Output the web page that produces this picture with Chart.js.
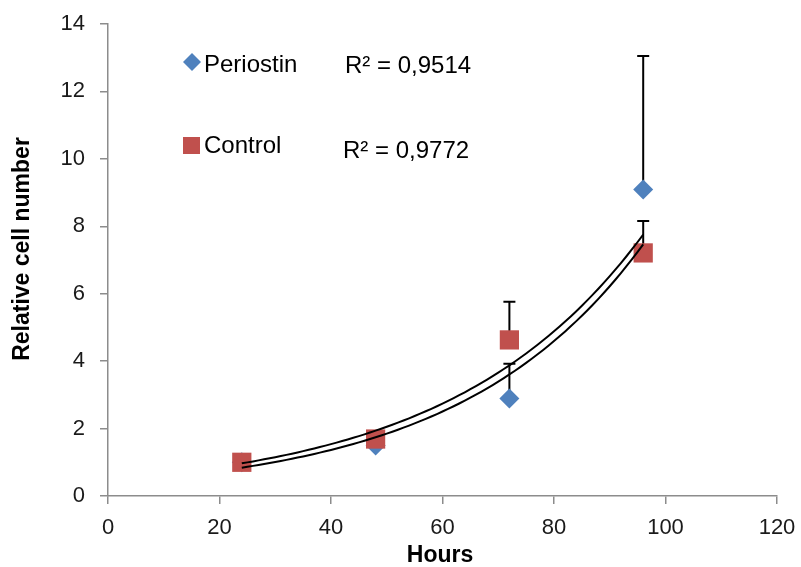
<!DOCTYPE html>
<html lang="en">
<head>
  <meta charset="UTF-8">
  <title>Relative cell number vs hours</title>
  <script src="https://cdn.jsdelivr.net/npm/chart.js@4.4.1/dist/chart.umd.min.js"></script>
  <style>
    body { margin: 0; background: #fff; }
    #wrap { width: 801px; height: 567px; }
  </style>
</head>
<body>
  <div id="wrap"><canvas id="cells" width="801" height="567"></canvas></div>
  <script>
    // values
    var hours = [24, 48, 72, 96];
    var periostin = [1.0, 1.5, 2.89, 9.09];
    var periostinErr = [0.05, 0.1, 1.03, 3.96];
    var control = [1.0, 1.69, 4.63, 7.21];
    var controlErr = [0.05, 0.08, 1.13, 0.95];
    var xTicks = [0, 20, 40, 60, 80, 100, 120];
    var yTicks = [0, 2, 4, 6, 8, 10, 12, 14];
    var seriesNames = ['Periostin', 'Control'];
    var r2Labels = ['R\u00b2 = 0,9514', 'R\u00b2 = 0,9772'];

    var BLUE = '#4f81bd';
    var RED = '#c0504d';
    var AXIS = '#8c8c8c';
    var FONT = "'Liberation Sans', Arial, sans-serif";

    // exponential trendline y = a*e^(bx), least squares on ln(y)
    function fitExp(xs, ys) {
      var n = xs.length, sx = 0, sy = 0, sxx = 0, sxy = 0;
      for (var i = 0; i < n; i++) {
        var ly = Math.log(ys[i]);
        sx += xs[i]; sy += ly; sxx += xs[i] * xs[i]; sxy += xs[i] * ly;
      }
      var b = (n * sxy - sx * sy) / (n * sxx - sx * sx);
      var a = Math.exp((sy - b * sx) / n);
      return function (x) { return a * Math.exp(b * x); };
    }

    function trendPoints(xs, ys) {
      var f = fitExp(xs, ys), pts = [];
      var x0 = xs[0], x1 = xs[xs.length - 1];
      for (var x = x0; x <= x1; x += 1) pts.push({ x: x, y: f(x) });
      return pts;
    }

    function toPoints(xs, ys) {
      return xs.map(function (x, i) { return { x: x, y: ys[i] }; });
    }

    // upper error bars, drawn under the markers
    var errorBars = {
      id: 'errorBars',
      beforeDatasetsDraw: function (chart) {
        var ctx = chart.ctx, xs = chart.scales.x, ys = chart.scales.y;
        var sets = [[periostin, periostinErr], [control, controlErr]];
        ctx.save();
        ctx.strokeStyle = '#000';
        ctx.lineWidth = 2;
        sets.forEach(function (s) {
          hours.forEach(function (h, i) {
            var px = xs.getPixelForValue(h);
            var p0 = ys.getPixelForValue(s[0][i]);
            var p1 = ys.getPixelForValue(s[0][i] + s[1][i]);
            ctx.beginPath();
            ctx.moveTo(px, p0);
            ctx.lineTo(px, p1);
            ctx.moveTo(px - 6, p1);
            ctx.lineTo(px + 6, p1);
            ctx.stroke();
          });
        });
        ctx.restore();
      }
    };

    // legend inside the plot, R² labels and axis titles
    var labelsPlugin = {
      id: 'labels',
      afterDraw: function (chart) {
        var ctx = chart.ctx;
        ctx.save();
        // diamond
        ctx.fillStyle = BLUE;
        ctx.beginPath();
        ctx.moveTo(192, 53); ctx.lineTo(201, 62); ctx.lineTo(192, 71); ctx.lineTo(183, 62);
        ctx.closePath();
        ctx.fill();
        // square
        ctx.fillStyle = RED;
        ctx.fillRect(183, 137, 17, 17);

        ctx.fillStyle = '#000';
        ctx.font = '24px ' + FONT;
        ctx.textAlign = 'left';
        ctx.textBaseline = 'alphabetic';
        ctx.fillText(seriesNames[0], 204, 72);
        ctx.fillText(seriesNames[1], 204, 153);
        ctx.fillText(r2Labels[0], 345, 73);
        ctx.fillText(r2Labels[1], 343, 158);

        ctx.font = 'bold 23px ' + FONT;
        ctx.textAlign = 'center';
        ctx.textBaseline = 'middle';
        ctx.fillText('Hours', 440, 556);
        ctx.translate(23, 249);
        ctx.rotate(-Math.PI / 2);
        ctx.fillText('Relative cell number', 0, 0);
        ctx.restore();
      }
    };

    var ctx = document.getElementById('cells').getContext('2d');
    new Chart(ctx, {
      type: 'scatter',
      data: {
        datasets: [
          {
            label: 'Control trend',
            type: 'line',
            data: trendPoints(hours, control),
            borderColor: '#000',
            borderWidth: 2,
            pointRadius: 0,
            fill: false,
            tension: 0,
            order: 0
          },
          {
            label: 'Periostin trend',
            type: 'line',
            data: trendPoints(hours, periostin),
            borderColor: '#000',
            borderWidth: 2,
            pointRadius: 0,
            fill: false,
            tension: 0,
            order: 0
          },
          {
            label: seriesNames[1],
            data: toPoints(hours, control),
            pointStyle: 'rect',
            pointRadius: 13.6,
            backgroundColor: RED,
            borderColor: RED,
            borderWidth: 0,
            order: 1
          },
          {
            label: seriesNames[0],
            data: toPoints(hours, periostin),
            pointStyle: 'rectRot',
            pointRadius: 10,
            backgroundColor: BLUE,
            borderColor: BLUE,
            borderWidth: 0,
            order: 2
          }
        ]
      },
      options: {
        responsive: false,
        animation: false,
        layout: { padding: { top: 24, right: 24, left: 0, bottom: 0 } },
        plugins: {
          legend: { display: false },
          tooltip: { enabled: false }
        },
        scales: {
          x: {
            type: 'linear',
            min: 0,
            max: 120,
            afterFit: function (s) {
              s.height = 71;
              s.paddingLeft = 0;
              s.paddingRight = 0;
            },
            afterBuildTicks: function (s) { s.ticks = xTicks.map(function (v) { return { value: v }; }); },
            ticks: { font: { size: 22, family: FONT }, color: '#1a1a1a', padding: 11, maxRotation: 0, minRotation: 0 },
            grid: { drawOnChartArea: false, drawTicks: true, tickLength: 8, color: AXIS, lineWidth: 1.5 },
            border: { display: true, color: AXIS, width: 1.5 }
          },
          y: {
            min: 0,
            max: 14,
            afterFit: function (s) {
              s.width = 108;
              s.paddingTop = 0;
              s.paddingBottom = 0;
            },
            afterBuildTicks: function (s) { s.ticks = yTicks.map(function (v) { return { value: v }; }); },
            ticks: { font: { size: 22, family: FONT }, color: '#1a1a1a', padding: 15 },
            grid: { drawOnChartArea: false, drawTicks: true, tickLength: 8, color: AXIS, lineWidth: 1.5 },
            border: { display: true, color: AXIS, width: 1.5 }
          }
        }
      },
      plugins: [errorBars, labelsPlugin]
    });
  </script>
</body>
</html>
